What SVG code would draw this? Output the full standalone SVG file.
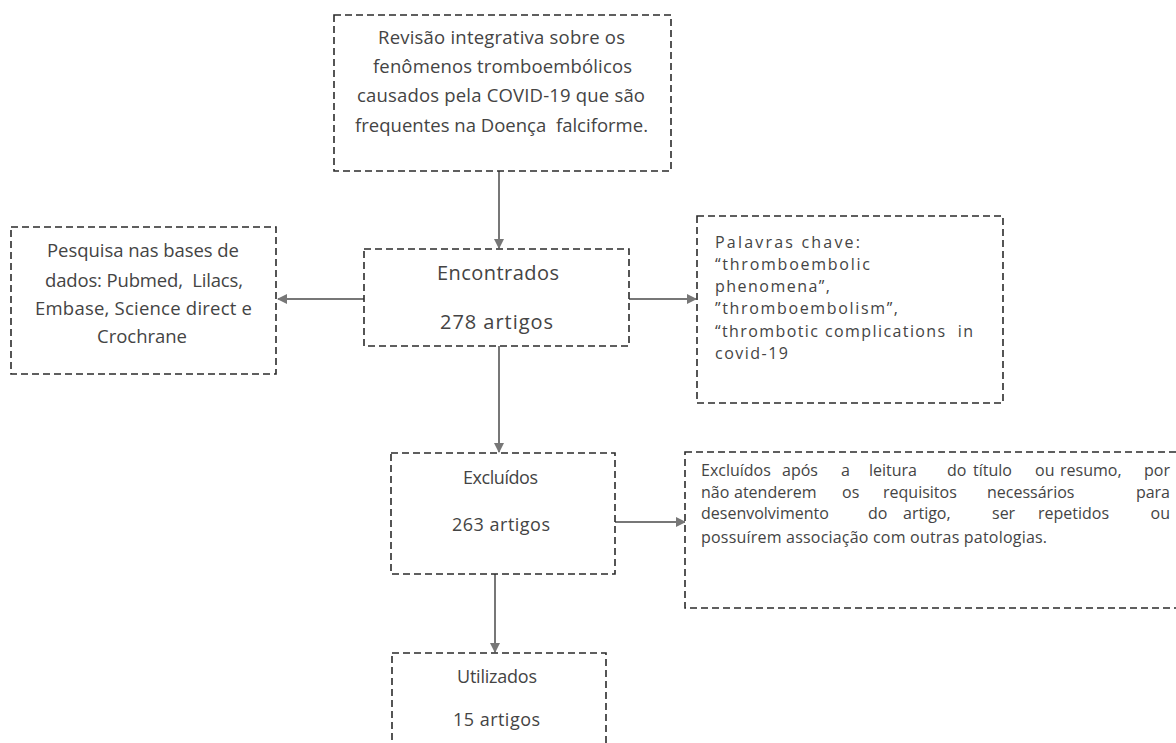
<svg xmlns="http://www.w3.org/2000/svg" width="1176" height="743" viewBox="0 0 1176 743">
<defs>
<style>
.box{fill:#fff;stroke:#2b2b2b;stroke-width:1.6;stroke-dasharray:7 4}
.t{font-family:"Open Sans","Liberation Sans",sans-serif;font-size:18.5px;fill:#444}
.big{font-size:20px}
.mid{font-size:18px}
.br{font-size:16px}
.edge{stroke:#777;stroke-width:2;fill:none;marker-end:url(#ah)}
</style>
<marker id="ah" viewBox="0 0 10 10" refX="9" refY="5" markerWidth="5" markerHeight="5" orient="auto" markerUnits="strokeWidth">
<path d="M0,0 L10,5 L0,10 z" fill="#777"/>
</marker>
</defs>
<rect width="1176" height="743" fill="#fff"/>
<g id="connectors">
<line class="edge" x1="499" y1="171" x2="499" y2="248"/>
<line class="edge" x1="364" y1="299" x2="278" y2="299"/>
<line class="edge" x1="629" y1="299" x2="696" y2="299"/>
<line class="edge" x1="499" y1="346" x2="499" y2="452"/>
<line class="edge" x1="615" y1="522" x2="685" y2="522"/>
<line class="edge" x1="495" y1="574" x2="495" y2="652"/>
</g>
<g id="n-revisao">
<rect class="box" x="334" y="15" width="337" height="156"/>
<text class="t" x="378" y="44" textLength="247" lengthAdjust="spacing">Revisão integrativa sobre os</text>
<text class="t" x="373" y="73" textLength="259" lengthAdjust="spacing">fenômenos tromboembólicos</text>
<text class="t" x="357" y="102" textLength="288" lengthAdjust="spacing">causados pela COVID-19 que são</text>
<text class="t" x="355" y="132" textLength="293" lengthAdjust="spacing" xml:space="preserve">frequentes na Doença  falciforme.</text>
</g>
<g id="n-pesquisa">
<rect class="box" x="11" y="227" width="265" height="147"/>
<text class="t" x="47" y="257" textLength="192" lengthAdjust="spacing">Pesquisa nas bases de</text>
<text class="t" x="45" y="287" textLength="198" lengthAdjust="spacing" xml:space="preserve">dados: Pubmed,  Lilacs,</text>
<text class="t" x="35" y="315" textLength="217" lengthAdjust="spacing">Embase, Science direct e</text>
<text class="t" x="97" y="343" textLength="90" lengthAdjust="spacing">Crochrane</text>
</g>
<g id="n-encontrados">
<rect class="box" x="364" y="249" width="265" height="97"/>
<text class="t big" x="437" y="280" textLength="122" lengthAdjust="spacing">Encontrados</text>
<text class="t big" x="440" y="329" textLength="113" lengthAdjust="spacing">278 artigos</text>
</g>
<g id="n-palavras">
<rect class="box" x="697" y="216" width="306" height="187"/>
<text class="t br" x="715" y="248" textLength="145" lengthAdjust="spacing">Palavras chave:</text>
<text class="t br" x="715" y="270" textLength="155" lengthAdjust="spacing">“thromboembolic</text>
<text class="t br" x="715" y="292" textLength="115" lengthAdjust="spacing">phenomena”,</text>
<text class="t br" x="715" y="314" textLength="183" lengthAdjust="spacing">”thromboembolism”,</text>
<text class="t br" x="715" y="337" textLength="258" lengthAdjust="spacing" xml:space="preserve">“thrombotic complications  in</text>
<text class="t br" x="715" y="359" textLength="73" lengthAdjust="spacing">covid-19</text>
</g>
<g id="n-excluidos">
<rect class="box" x="391" y="453" width="224" height="121"/>
<text class="t mid" x="463" y="484" textLength="75" lengthAdjust="spacing">Excluídos</text>
<text class="t mid" x="452" y="531" textLength="98" lengthAdjust="spacing">263 artigos</text>
</g>
<g id="n-motivo">
<rect class="box" x="685" y="452" width="500" height="156"/>
<text class="t br" y="476"><tspan x="701">Excluídos</tspan><tspan x="782">após</tspan><tspan x="841">a</tspan><tspan x="869">leitura</tspan><tspan x="947">do</tspan><tspan x="973">título</tspan><tspan x="1035">ou</tspan><tspan x="1060">resumo,</tspan><tspan x="1170" text-anchor="end">por</tspan></text>
<text class="t br" y="498"><tspan x="701">não</tspan><tspan x="734">atenderem</tspan><tspan x="842">os</tspan><tspan x="883">requisitos</tspan><tspan x="987">necessários</tspan><tspan x="1170" text-anchor="end">para</tspan></text>
<text class="t br" y="519"><tspan x="701">desenvolvimento</tspan><tspan x="868">do</tspan><tspan x="903">artigo,</tspan><tspan x="992">ser</tspan><tspan x="1038">repetidos</tspan><tspan x="1170" text-anchor="end">ou</tspan></text>
<text class="t br" x="701" y="543" textLength="346" lengthAdjust="spacing">possuírem associação com outras patologias.</text>
</g>
<g id="n-utilizados">
<rect class="box" x="392" y="653" width="214" height="110"/>
<text class="t mid" x="457" y="683" textLength="80" lengthAdjust="spacing">Utilizados</text>
<text class="t mid" x="453" y="726" textLength="87" lengthAdjust="spacing">15 artigos</text>
</g>
</svg>
